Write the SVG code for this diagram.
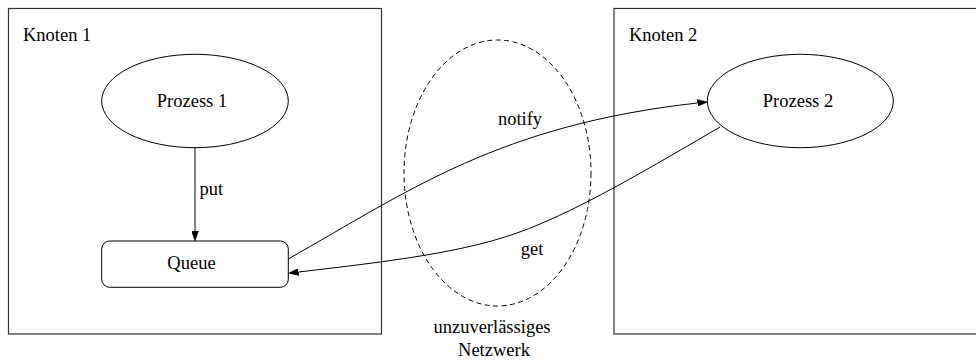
<svg xmlns="http://www.w3.org/2000/svg" width="976" height="362" viewBox="0 0 976 362">
  <style>
    text { font-family: "Liberation Serif", "Times New Roman", serif; font-size: 18.5px; fill: #000; }
    .mid { text-anchor: middle; }
    .node { fill: none; stroke: #000; stroke-width: 1; }
    .cluster { fill: none; stroke: #333; stroke-width: 1.2; }
    .net { fill: none; stroke: #000; stroke-width: 1; stroke-dasharray: 5 3.5; }
    .edge { fill: none; stroke: #000; stroke-width: 1; }
  </style>
  <defs>
    <marker id="arrow" markerWidth="10" markerHeight="7" refX="0" refY="3.5" orient="auto" markerUnits="userSpaceOnUse">
      <polygon points="0,0 10,3.5 0,7" fill="#000" stroke="#000" stroke-width="0.5"/>
    </marker>
  </defs>
  <rect width="976" height="362" fill="#fff"/>

  <!-- Cluster: node 1 -->
  <g id="knoten1">
    <rect class="cluster" x="8.5" y="8.5" width="373" height="325.5"/>
    <text x="23" y="41">Knoten 1</text>
  </g>

  <!-- Cluster: node 2 -->
  <g id="knoten2">
    <rect class="cluster" x="614" y="8.5" width="364" height="325.5"/>
    <text x="629" y="41">Knoten 2</text>
  </g>

  <!-- Unreliable network region -->
  <g id="netzwerk">
    <ellipse class="net" cx="497.5" cy="173" rx="93.5" ry="133"/>
    <text class="mid" x="492" y="333">unzuverlässiges</text>
    <text class="mid" x="494" y="356">Netzwerk</text>
  </g>

  <g id="prozess1">
    <ellipse class="node" cx="195" cy="101" rx="93.3" ry="46.7"/>
    <text class="mid" x="192" y="107">Prozess 1</text>
  </g>

  <g id="queue">
    <rect class="node" x="101.7" y="241" width="186.6" height="46.3" rx="8" ry="8"/>
    <text class="mid" x="191.5" y="269">Queue</text>
  </g>

  <g id="prozess2">
    <ellipse class="node" cx="800.3" cy="101" rx="93" ry="46.7"/>
    <text class="mid" x="798" y="107">Prozess 2</text>
  </g>

  <!-- Connectors -->
  <g id="edges">
    <path class="edge" d="M195,147.7 L195,231" marker-end="url(#arrow)"/>
    <text x="199.5" y="195">put</text>

    <path class="edge" d="M288.3,259 C410,190 500,125 697.5,103" marker-end="url(#arrow)"/>
    <text class="mid" x="520" y="125">notify</text>

    <path class="edge" d="M720,127 C650,168 590,203 540,224 C480,250 410,259 298.5,272" marker-end="url(#arrow)"/>
    <text class="mid" x="532" y="255">get</text>
  </g>
</svg>
